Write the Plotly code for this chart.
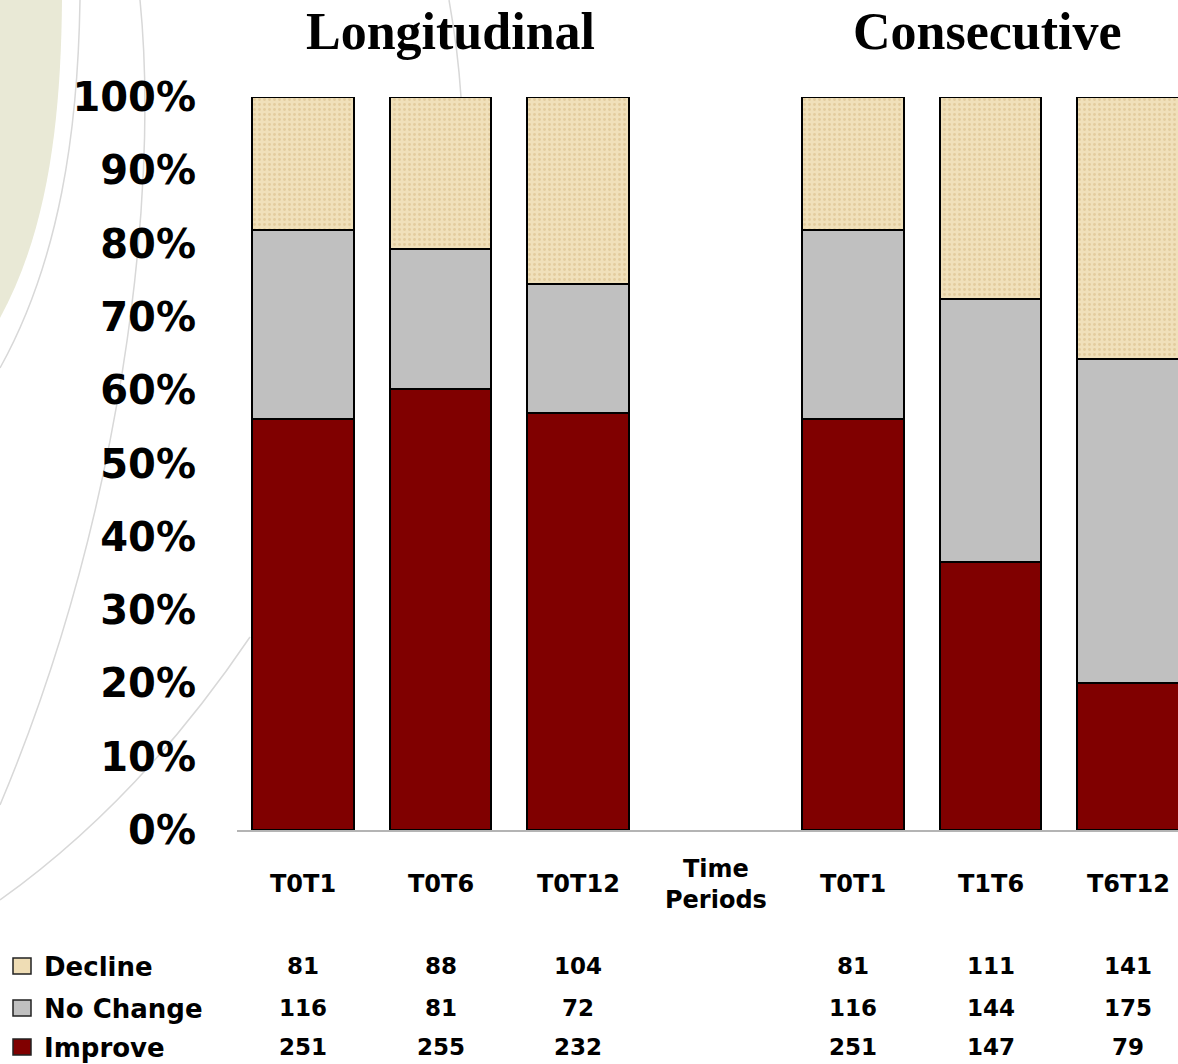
import plotly.graph_objects as go

# Outcome counts per comparison period
periods = ["T0T1", "T0T6", "T0T12", "Time<br>Periods", "T0T1", "T1T6", "T6T12"]
decline = [81, 88, 104, None, 81, 111, 141]
no_change = [116, 81, 72, None, 116, 144, 175]
improve = [251, 255, 232, None, 251, 147, 79]

group_titles = ["Longitudinal", "Consecutive"]
y_ticks = [0, 10, 20, 30, 40, 50, 60, 70, 80, 90, 100]
y_tick_text = [f"{v}%" for v in y_ticks]

series = [
    ("Improve", improve, "#800000"),
    ("No Change", no_change, "#C0C0C0"),
    ("Decline", decline, "#EFDDB5"),
]

# Canvas geometry (pixels)
W, H = 1178, 1064
PLOT_L, PLOT_T, PLOT_B = 237, 97, 830
PLOT_W = W - PLOT_L
PLOT_H = PLOT_B - PLOT_T
SLOT = 137.5          # pixel spacing between bar slots
FIRST_CENTER = 303    # pixel centre of first slot


def px(x):
    return (x - PLOT_L) / PLOT_W


def py(y):
    return (PLOT_B - y) / PLOT_H


def share(values):
    out = []
    for i, v in enumerate(values):
        if v is None:
            out.append(None)
        else:
            total = decline[i] + no_change[i] + improve[i]
            out.append(v / total * 100)
    return out


xs = list(range(len(periods)))
fig = go.Figure()

for name, vals, color in series:
    marker = dict(color=color, line=dict(color="#000000", width=2))
    if name == "Decline":
        # light speckle to suggest a parchment fill
        marker["pattern"] = dict(shape=".", fgcolor="#E3CC9E", bgcolor="#F0E0BA",
                                 size=5, solidity=0.25, fillmode="replace")
    fig.add_trace(go.Bar(
        x=xs, y=share(vals), name=name, width=0.735,
        marker=marker, cliponaxis=False, showlegend=False,
        hoverinfo="skip",
    ))

x_min = -(FIRST_CENTER - PLOT_L) / SLOT
x_max = (W - FIRST_CENTER) / SLOT

annotations = []
shapes = []

# Group titles
title_font = dict(family="Liberation Serif", size=52, color="#000000", weight="bold")
annotations.append(dict(x=px(450), y=py(31), xref="paper", yref="paper", text=group_titles[0],
                        showarrow=False, xanchor="center", yanchor="middle", font=title_font))
annotations.append(dict(x=px(987), y=py(31), xref="paper", yref="paper", text=group_titles[1],
                        showarrow=False, xanchor="center", yanchor="middle", font=title_font))

# Category labels under the axis
cat_font = dict(family="DejaVu Sans", size=24, color="#000000", weight="bold")
for i, lab in enumerate(periods):
    annotations.append(dict(x=i, y=py(884), xref="x", yref="paper", text=lab,
                            showarrow=False, xanchor="center", yanchor="middle",
                            font=cat_font, align="center"))

# Data table with legend keys
num_font = dict(family="DejaVu Sans", size=23, color="#000000", weight="bold")
key_font = dict(family="DejaVu Sans", size=26, color="#000000", weight="bold")
rows = [("Decline", decline, "#EFDDB5", 966),
        ("No Change", no_change, "#C0C0C0", 1008),
        ("Improve", improve, "#800000", 1047)]
for name, vals, color, ry in rows:
    shapes.append(dict(type="rect", xref="paper", yref="paper",
                       x0=px(13), x1=px(31), y0=py(ry - 8), y1=py(ry + 8),
                       fillcolor=color, line=dict(color="#222222", width=1.5)))
    annotations.append(dict(x=px(42), y=py(ry + 1), xref="paper", yref="paper", text=name,
                            showarrow=False, xanchor="left", yanchor="middle", font=key_font))
    for i, v in enumerate(vals):
        if v is None:
            continue
        annotations.append(dict(x=i, y=py(ry), xref="x", yref="paper", text=str(v),
                                showarrow=False, xanchor="center", yanchor="middle",
                                font=num_font))


# Decorative background swoosh and arcs
def path(cmds):
    out = []
    for c in cmds:
        if isinstance(c, str):
            out.append(c)
        else:
            out.append(f"{px(c[0]):.5f},{py(c[1]):.5f}")
    return " ".join(out)


shapes.append(dict(type="path", xref="paper", yref="paper", layer="below",
                   path=path(["M", (0, 0), "L", (62, 0), "C", (61, 120), (48, 230), (0, 318), "Z"]),
                   fillcolor="#E9E9D6", line=dict(width=0)))
arc_line = dict(color="#D8D8D8", width=1.5)
for p in (
    ["M", (80, 0), "C", (78, 130), (60, 260), (0, 368)],
    ["M", (140, 0), "C", (160, 200), (120, 520), (0, 805)],
    ["M", (0, 900), "Q", (140, 800), (250, 637)],
    ["M", (449, 0), "Q", (458, 50), (461, 97)],
):
    shapes.append(dict(type="path", xref="paper", yref="paper", layer="below",
                       path=path(p), line=arc_line))

fig.update_layout(
    width=W, height=H, autosize=False,
    margin=dict(l=PLOT_L, r=0, t=PLOT_T, b=H - PLOT_B, pad=0),
    paper_bgcolor="#FFFFFF", plot_bgcolor="rgba(0,0,0,0)",
    barmode="stack", bargap=0,
    xaxis=dict(range=[x_min, x_max], showticklabels=False, showgrid=False, zeroline=False,
               showline=True, linecolor="#B4B4B4", linewidth=2, ticks="", fixedrange=True),
    yaxis=dict(range=[0, 100], tickvals=y_ticks, ticktext=y_tick_text, showgrid=False,
               zeroline=False, showline=False, ticks="", ticklabelstandoff=40,
               tickfont=dict(family="DejaVu Sans", size=40, color="#000000", weight="bold"),
               fixedrange=True),
    annotations=annotations,
    shapes=shapes,
)

fig.write_html("out.html")
